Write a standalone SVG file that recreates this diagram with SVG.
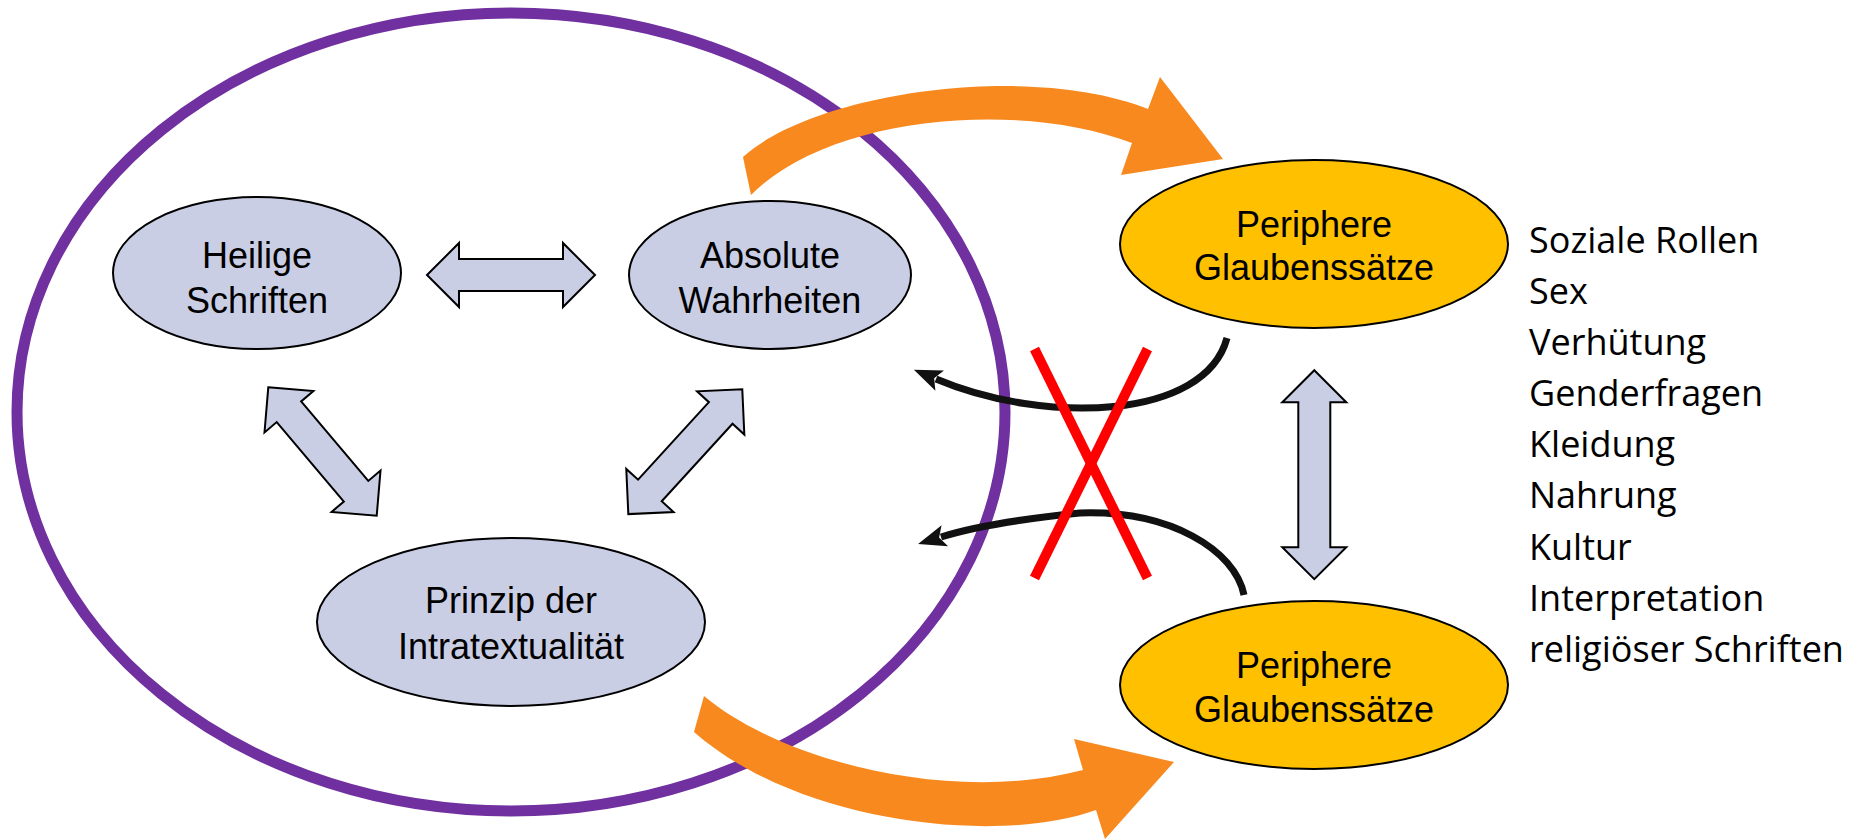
<svg xmlns="http://www.w3.org/2000/svg" width="1859" height="839" viewBox="0 0 1859 839">
<defs>
<style>
.node{fill:#CACEE5;stroke:#000;stroke-width:2}
.gold{fill:#FFC000;stroke:#000;stroke-width:2}
.lbl{font-family:"Liberation Sans",Arial,sans-serif;font-size:36px;fill:#000;text-anchor:middle}
.list{font-family:"Open Sans","Liberation Sans",sans-serif;font-size:36px;fill:#000}
.dbl{fill:#CACEE5;stroke:#000;stroke-width:2;stroke-linejoin:miter}
.orange{fill:#F7891F}
.curve{fill:none;stroke:#111;stroke-width:7;marker-end:url(#ah)}
.cross{stroke:#FF0000;stroke-width:10;fill:none}
</style>
<marker id="ah" markerUnits="userSpaceOnUse" viewBox="-6 -12 32 24" refX="0" refY="0" markerWidth="32" markerHeight="24" orient="auto">
<path d="M-4,-11 L24,0 L-4,11 L2,0 Z" fill="#111"/>
</marker>
</defs>

<g id="core-circle">
<ellipse cx="511" cy="412" rx="494" ry="399" fill="none" stroke="#7030A0" stroke-width="11"/>
</g>

<g id="node-heilige">
<ellipse class="node" cx="257" cy="273" rx="144" ry="76"/>
<text class="lbl"><tspan x="257" y="268">Heilige</tspan><tspan x="257" y="313">Schriften</tspan></text>
</g>
<g id="node-absolute">
<ellipse class="node" cx="770" cy="275" rx="141" ry="74"/>
<text class="lbl"><tspan x="770" y="268">Absolute</tspan><tspan x="770" y="313">Wahrheiten</tspan></text>
</g>
<g id="node-prinzip">
<ellipse class="node" cx="511" cy="622" rx="194" ry="84"/>
<text class="lbl"><tspan x="511" y="613">Prinzip der</tspan><tspan x="511" y="659">Intratextualität</tspan></text>
</g>
<g id="node-periphere-top">
<ellipse class="gold" cx="1314" cy="244" rx="194" ry="84"/>
<text class="lbl"><tspan x="1314" y="237">Periphere</tspan><tspan x="1314" y="280">Glaubenssätze</tspan></text>
</g>
<g id="node-periphere-bottom">
<ellipse class="gold" cx="1314" cy="685" rx="194" ry="84"/>
<text class="lbl"><tspan x="1314" y="678">Periphere</tspan><tspan x="1314" y="722">Glaubenssätze</tspan></text>
</g>
<g id="list">
<text class="list"><tspan x="1529" y="253">Soziale Rollen</tspan><tspan x="1529" y="304">Sex</tspan><tspan x="1529" y="355">Verhütung</tspan><tspan x="1529" y="406">Genderfragen</tspan><tspan x="1529" y="457">Kleidung</tspan><tspan x="1529" y="508">Nahrung</tspan><tspan x="1529" y="560">Kultur</tspan><tspan x="1529" y="611">Interpretation</tspan><tspan x="1529" y="662">religiöser Schriften</tspan></text>
</g>

<g id="connectors">
<polygon class="dbl" transform="translate(511,275)" points="-84,0 -52,-32 -52,-16 52,-16 52,-32 84,0 52,32 52,16 -52,16 -52,32"/>
<polygon class="dbl" transform="translate(322.5,451.5) rotate(49.8)" points="-84,0 -52,-32 -52,-16 52,-16 52,-32 84,0 52,32 52,16 -52,16 -52,32"/>
<polygon class="dbl" transform="translate(685.3,451.7) rotate(-47.6)" points="-84.5,0 -52.5,-32 -52.5,-16 52.5,-16 52.5,-32 84.5,0 52.5,32 52.5,16 -52.5,16 -52.5,32"/>
<polygon class="dbl" transform="translate(1314.3,474.7) rotate(90)" points="-104.5,0 -72.5,-32 -72.5,-16 72.5,-16 72.5,-32 104.5,0 72.5,32 72.5,16 -72.5,16 -72.5,32"/>

<path class="orange" d="M743,157 C815,92 1030,62 1148,109 L1160,77 L1223,159 L1121,175 L1132,143 C1020,100 830,115 751,195 Z"/>
<path class="orange" d="M704,696 C780,760 950,805 1083,770 L1074,739 L1174,762 L1105,839 L1096,810 C1000,845 800,825 694,732 Z"/>

<path class="curve" d="M1227,338 C1205,420 1045,425 936,379"/>
<path class="curve" d="M1244,595 C1235,550 1170,510 1080,513 C1020,519 970,528 941,537"/>

<line class="cross" x1="1034.5" y1="349" x2="1147.5" y2="578"/>
<line class="cross" x1="1147.5" y1="349" x2="1034.5" y2="578"/>
</g>
</svg>
